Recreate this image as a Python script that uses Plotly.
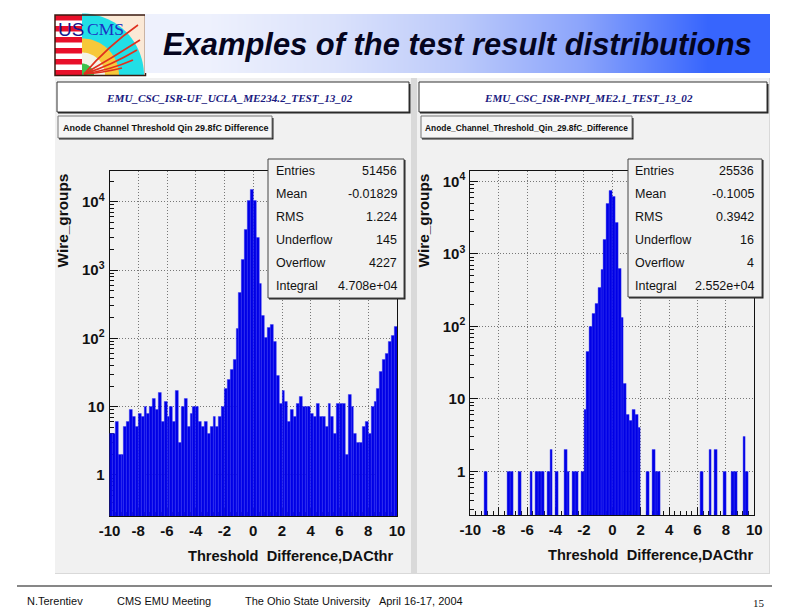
import numpy as np
import plotly.graph_objects as go

W, H = 792, 612

bin_centers = [round(-9.9 + 0.2 * i, 1) for i in range(100)]

# counts per bin
left_counts = [
    4, 4, 6, 2, 2, 5, 6, 9, 7, 5,
    8, 7, 10, 8, 10, 13, 9, 16, 6, 12,
    7, 10, 6, 17, 3, 10, 13, 5, 8, 10,
    10, 6, 5, 6, 4, 5, 7, 5, 7, 10,
    18, 25, 35, 48, 137, 470, 1400, 3850, 10500, 15000,
    10500, 3000, 640, 215, 102, 143, 160, 88, 28, 11,
    17, 12, 6, 9, 7, 11, 14, 10, 10, 10,
    8, 7, 11, 7, 7, 5, 11, 7, 4, 11,
    11, 11, 2, 15, 10, 4, 3, 3, 5, 6,
    4, 10, 12, 18, 32, 48, 60, 88, 110, 150,
]
right_counts = [
    0, 0, 0, 0, 0, 1, 0, 0, 0, 0,
    0, 0, 0, 1, 1, 0, 0, 1, 0, 0,
    0, 1, 0, 1, 1, 1, 0, 1, 2, 0,
    1, 0, 0, 2, 1, 0, 1, 1, 0, 1,
    7, 45, 100, 150, 205, 345, 600, 1580, 4900, 7500,
    6100, 2700, 630, 130, 16, 6, 5, 7, 6, 4,
    0, 0, 1, 0, 2, 1, 1, 0, 0, 0,
    0, 0, 0, 0, 0, 0, 0, 0, 0, 0,
    0, 1, 0, 0, 2, 0, 2, 0, 0, 1,
    0, 0, 1, 1, 0, 0, 3, 1, 0, 0,
]

stat_names = ["Entries", "Mean", "RMS", "Underflow", "Overflow", "Integral"]
left_stats = ["51456", "-0.01829", "1.224", "145", "4227", "4.708e+04"]
right_stats = ["25536", "-0.1005", "0.3942", "16", "4", "2.552e+04"]

x_ticks = [-10, -8, -6, -4, -2, 0, 2, 4, 6, 8, 10]
x_tick_text = ["-10", "-8", "-6", "-4", "-2", "0", "2", "4", "6", "8", "10"]
y_ticks = [1, 10, 100, 1000, 10000]
y_tick_text = ["1", "10", "10<sup>2</sup>", "10<sup>3</sup>", "10<sup>4</sup>"]
y_minor = [m * d for d in [0.1, 1, 10, 100, 1000, 10000] for m in range(2, 10)]

BLUE = "#0000e6"
PAD = "#f1f1f1"
FONT = "Liberation Sans"
SERIF = "Liberation Serif"


def px(x):
    return x / W


def py(y):
    return 1 - y / H


def rect(x0, y0, x1, y1, fill, line=None, width=1, layer="below"):
    return dict(
        type="rect", xref="paper", yref="paper", layer=layer,
        x0=px(x0), x1=px(x1), y0=py(y0), y1=py(y1),
        fillcolor=fill, line=dict(color=line, width=width if line else 0),
    )


def poly(points, fill, layer="below"):
    d = "M" + "L".join(f"{px(a):.5f},{py(b):.5f}" for a, b in points) + "Z"
    return dict(type="path", xref="paper", yref="paper", layer=layer, path=d,
                fillcolor=fill, line=dict(width=0))


def ring(r0, r1, a0, a1, fill):
    # ring sector around the bottom left corner of the logo picture
    cx, cy = 82, 75.5
    ang = np.radians(np.linspace(a0, a1, 30))
    outer = [(cx + r1 * np.cos(t), cy - r1 * np.sin(t)) for t in ang]
    inner = [(cx + r0 * np.cos(t), cy - r0 * np.sin(t)) for t in ang[::-1]]
    return poly(outer + inner, fill)


def label(x, y, text, size=12, color="#111111", family=FONT, anchor="left", angle=0, weight="normal", style="normal"):
    return dict(
        xref="paper", yref="paper", x=px(x), y=py(y), text=text, showarrow=False,
        xanchor=anchor, yanchor="middle", textangle=angle, borderpad=0, borderwidth=0,
        font=dict(family=family, size=size, color=color, weight=weight, style=style),
    )


def log_range(bottom, top):
    return [float(np.log10(bottom)), float(np.log10(top))]


fig = go.Figure()

fig.add_trace(go.Bar(x=bin_centers, y=left_counts, xaxis="x", yaxis="y", marker=dict(color=BLUE, line=dict(color="#3535f5", width=0.4))))
fig.add_trace(go.Bar(x=bin_centers, y=right_counts, xaxis="x2", yaxis="y2", marker=dict(color=BLUE, line=dict(color="#3535f5", width=0.4))))

# title bar gradient
fig.add_trace(go.Heatmap(
    z=[[0, 1, 2, 3, 4]], xaxis="x3", yaxis="y3", showscale=False, hoverinfo="skip",
    colorscale=[[0, "#eef1fd"], [0.25, "#dbe2fb"], [0.5, "#bccafa"], [0.75, "#8ba4fb"], [1, "#3765fd"]],
    zsmooth="best",
))

axis_common = dict(
    showline=True, mirror=True, linecolor="#111111", linewidth=1, layer="below traces",
    ticks="inside", tickcolor="#111111", ticklen=8,
    showgrid=True, gridcolor="#777777", griddash="1px,2px", gridwidth=1, zeroline=False,
    tickfont=dict(family=FONT, size=15, color="#111111", weight="bold"),
)
x_common = dict(
    axis_common, range=[-10, 10], tickmode="array", tickvals=x_ticks, ticktext=x_tick_text, ticklabelstandoff=1,
    minor=dict(ticks="inside", ticklen=4, dtick=0.4, tickcolor="#111111", showgrid=False),
)
y_common = dict(
    axis_common, type="log", tickmode="array", tickvals=y_ticks, ticktext=y_tick_text, ticklabelstandoff=1,
    minor=dict(ticks="inside", ticklen=4, tickmode="array", tickvals=y_minor, tickcolor="#111111", showgrid=False),
)

shapes = [
    rect(55, 78, 770, 574, "#d9d9d9"),
    rect(55, 78, 411, 573, PAD),
    rect(417, 78, 769, 573, PAD),
]

# title boxes with the dark shadow on the right and the bottom
for x0, x1 in [(57, 409), (419, 767)]:
    shapes.append(rect(x0 + 1, 84, x1 + 1.5, 113.5, "#222222"))
    shapes.append(rect(x0, 82, x1, 112, "white", "#333333"))
for x0, x1 in [(58, 272), (421, 632)]:
    shapes.append(rect(x0 + 1, 118, x1 + 1.5, 139.5, "#222222"))
    shapes.append(rect(x0, 116, x1, 138, "#f6f6f6", "#777777"))

# logo
shapes.append(rect(82, 15, 145.5, 75.5, "#fbe9d6"))
shapes.append(ring(0, 62, 0, 90, "#22dfe6"))
shapes.append(ring(0, 37, 0, 90, "#f7c83a"))
shapes.append(ring(0, 23, 0, 90, "#f4f4e8"))
shapes.append(ring(0, 12, 0, 90, "#3cc24a"))
shapes.append(rect(55, 15, 82, 75.5, "white"))
for k in range(6):
    shapes.append(rect(55, 15 + 11 * k, 82, 20.5 + 11 * k, "#e8102a"))
for ex, ey, mx, my in [(138, 25, 108, 46), (140, 40, 112, 58), (137, 50, 112, 65), (133, 60, 110, 70), (122, 68, 102, 73)]:
    d = f"M{px(84):.5f},{py(74):.5f}Q{px(mx):.5f},{py(my):.5f} {px(ex):.5f},{py(ey):.5f}"
    shapes.append(dict(type="path", xref="paper", yref="paper", layer="below", path=d, line=dict(color="#e0301e", width=1.6)))
shapes.append(rect(55, 15, 145.5, 75.5, "rgba(0,0,0,0)", "#3a1a10", 1.5))

# stats boxes go over the frame and the bars
for x0, x1, y1 in [(268, 404, 298), (628, 762, 297)]:
    shapes.append(rect(x0 + 1, 160, x1 + 1.5, y1 + 1.5, "#222222", layer="above"))
    shapes.append(rect(x0, 159, x1, y1, PAD, "#444444", layer="above"))

# footer rule
shapes.append(dict(type="line", xref="paper", yref="paper", layer="below",
                   x0=px(17), x1=px(772), y0=py(586), y1=py(586), line=dict(color="#111111", width=1.2)))

annotations = [
    label(163, 44.5, "Examples of the test result distributions", size=30.9, color="#05051e", weight="bold", style="italic"),
    label(58, 29, "US", size=19, color="#16188c"),
    label(87, 29, "CMS", size=17.5, color="#1b2fc4", family=SERIF),
    label(229, 98, "EMU_CSC_ISR-UF_UCLA_ME234.2_TEST_13_02", size=11.2, color="#1a1a80", family=SERIF, anchor="center", weight="bold", style="italic"),
    label(588, 98, "EMU_CSC_ISR-PNPI_ME2.1_TEST_13_02", size=11.1, color="#1a1a80", family=SERIF, anchor="center", weight="bold", style="italic"),
    label(63, 127.5, "Anode Channel Threshold Qin 29.8fC Difference", size=9, weight="bold"),
    label(425, 127.5, "Anode_Channel_Threshold_Qin_29.8fC_Difference", size=8.4, weight="bold"),
    label(290.5, 556, "Threshold  Difference,DACthr", size=14.6, anchor="center", weight="bold"),
    label(650, 555, "Threshold  Difference,DACthr", size=14.6, anchor="center", weight="bold"),
    label(62, 220.5, "Wire_groups", size=15.4, anchor="center", angle=-90, weight="bold"),
    label(423, 220.5, "Wire_groups", size=15.4, anchor="center", angle=-90, weight="bold"),
    label(27, 601, "N.Terentiev", size=11),
    label(117, 601, "CMS EMU Meeting", size=11),
    label(245, 601, "The Ohio State University   April 16-17, 2004", size=11),
    label(765, 603, "15", size=11, family=SERIF, anchor="right"),
]
for i, name in enumerate(stat_names):
    row_y = 170.7 + 23 * i
    annotations.append(label(276, row_y, name, size=12.5))
    annotations.append(label(397, row_y, left_stats[i], size=12.5, anchor="right"))
    annotations.append(label(635, row_y, name, size=12.5))
    annotations.append(label(754, row_y, right_stats[i], size=12.5, anchor="right"))

fig.update_layout(
    width=W,
    height=H,
    margin=dict(l=0, r=0, t=0, b=0, autoexpand=False),
    paper_bgcolor="white",
    plot_bgcolor="rgba(0,0,0,0)",
    showlegend=False,
    bargap=0,
    xaxis=dict(x_common, domain=[px(109.5), px(397)], anchor="y"),
    yaxis=dict(y_common, domain=[py(516), py(170.7)], anchor="x", range=log_range(0.25, 28500)),
    xaxis2=dict(x_common, domain=[px(470.3), px(754.3)], anchor="y2"),
    yaxis2=dict(y_common, domain=[py(515), py(170.7)], anchor="x2", range=log_range(0.25, 14000)),
    xaxis3=dict(domain=[px(145), px(770)], visible=False, anchor="y3"),
    yaxis3=dict(domain=[py(73.5), py(14)], visible=False, anchor="x3"),
    shapes=shapes,
    annotations=annotations,
)

fig.write_html("out.html", config={"displayModeBar": False}, post_script="document.body.style.margin='0';")
